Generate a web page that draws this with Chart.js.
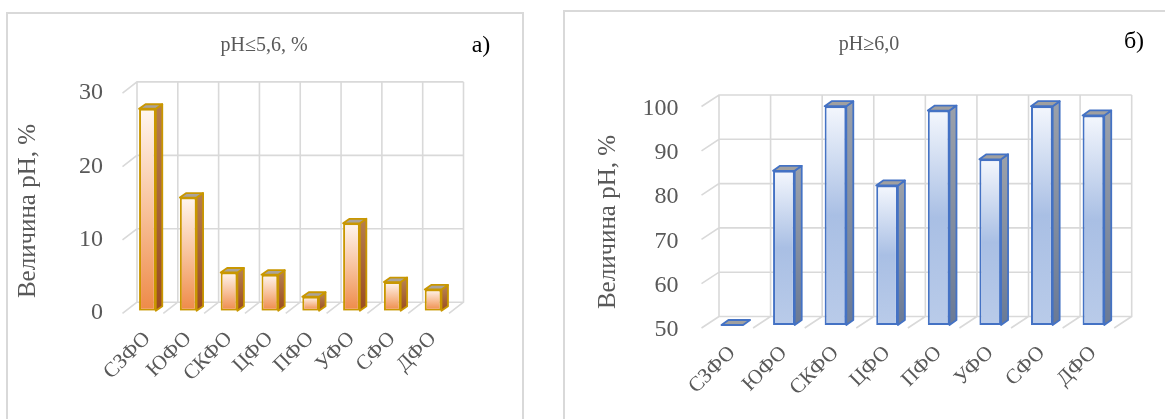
<!DOCTYPE html>
<html>
<head>
<meta charset="utf-8">
<script src="https://cdn.jsdelivr.net/npm/chart.js@4"></script>
<style>
  body { margin: 0; width: 1165px; height: 419px; overflow: hidden; background: #fff; position: relative; }
  .box { position: absolute; border: 2px solid #d9d9d9; border-bottom: none; height: 500px; }
  canvas { position: absolute; top: 0; }
</style>
</head>
<body>
<div class="box" style="left:6px; top:12px; width:514px;"></div>
<div class="box" style="left:563px; top:10px; width:700px;"></div>
<canvas id="chartA" width="545" height="419" style="left:0"></canvas>
<canvas id="chartB" width="620" height="419" style="left:545px"></canvas>
<script>
const regions = ["СЗФО", "ЮФО", "СКФО", "ЦФО", "ПФО", "УФО", "СФО", "ДФО"];
const acidShare = [27.5, 15.4, 5.2, 4.9, 1.9, 11.9, 3.9, 2.9];      // pH <= 5.6
const alkalineShare = [50, 84.8, 99.4, 81.5, 98.4, 87.4, 99.4, 97.3]; // pH >= 6.0
const acidRange = [0, 30, 10];
const alkalineRange = [50, 100, 10];

const axisTitle = "Величина pH, %";
const FONT = "'Liberation Serif', 'Times New Roman', serif";
const GREY = "#595959";

// gradient for the front face of every bar, built from the y scale
function frontFill(stops) {
  return (c) => {
    const chart = c.chart;
    if (!chart.chartArea || c.type !== "data") return stops[2];
    const y = chart.scales.y;
    const top = y.getPixelForValue(c.raw);
    const bot = y.getPixelForValue(y.min);
    if (bot - top < 1) return stops[2];
    const g = chart.ctx.createLinearGradient(0, top, 0, bot);
    g.addColorStop(0, stops[0]);
    g.addColorStop(0.5, stops[1]);
    g.addColorStop(1, stops[2]);
    return g;
  };
}

const pseudo3d = {
  id: "pseudo3d",
  beforeDatasetsDraw(chart, args, o) {
    const { ctx, chartArea: a, scales: { x, y } } = chart;
    const [bx, by] = o.back, [fx, fy] = o.front;
    const w = (a.right - a.left) / x.ticks.length;
    ctx.save();
    ctx.strokeStyle = "#d9d9d9";
    ctx.lineWidth = 1.6;
    ctx.beginPath();
    y.ticks.forEach((t) => {
      const py = y.getPixelForValue(t.value);
      ctx.moveTo(a.left + fx, py + fy);
      ctx.lineTo(a.left + bx, py + by);
      ctx.lineTo(a.right + bx, py + by);
    });
    x.ticks.forEach((t, i) => {
      const px = x.getPixelForTick(i) - w / 2;
      ctx.moveTo(px + fx, a.bottom + fy);
      ctx.lineTo(px + bx, a.bottom + by);
      ctx.lineTo(px + bx, a.top + by);
    });
    ctx.moveTo(a.right + fx, a.bottom + fy);
    ctx.lineTo(a.right + bx, a.bottom + by);
    ctx.lineTo(a.right + bx, a.top + by);
    ctx.stroke();
    ctx.restore();
  },
  afterDatasetsDraw(chart, args, o) {
    const { ctx } = chart;
    const [dx, dy] = o.depth;
    ctx.save();
    ctx.lineWidth = 1.8;
    ctx.lineJoin = "round";
    ctx.strokeStyle = o.border;
    chart.getDatasetMeta(0).data.forEach((bar) => {
      const { x, y, base, width } = bar.getProps(["x", "y", "base", "width"], true);
      const l = x - width / 2, r = x + width / 2;
      if (base - y > 0.5) {
        const g = ctx.createLinearGradient(0, y, 0, base);
        g.addColorStop(0, o.side[0]);
        g.addColorStop(1, o.side[1]);
        ctx.fillStyle = g;
        ctx.beginPath();
        ctx.moveTo(r, y);
        ctx.lineTo(r + dx, y + dy);
        ctx.lineTo(r + dx, base + dy);
        ctx.lineTo(r, base);
        ctx.closePath();
        ctx.fill();
        ctx.stroke();
      }
      ctx.fillStyle = o.top;
      ctx.beginPath();
      ctx.moveTo(l, y);
      ctx.lineTo(l + dx, y + dy);
      ctx.lineTo(r + dx, y + dy);
      ctx.lineTo(r, y);
      ctx.closePath();
      ctx.fill();
      ctx.stroke();
    });
    ctx.restore();
  },
  afterDraw(chart, args, o) {
    const { ctx } = chart;
    ctx.save();
    ctx.textAlign = "center";
    ctx.textBaseline = "middle";
    ctx.fillStyle = GREY;
    ctx.font = "20px " + FONT;
    ctx.fillText(o.title, o.titlePos[0], o.titlePos[1]);
    ctx.fillStyle = "#000";
    ctx.font = "24px " + FONT;
    ctx.fillText(o.letter, o.letterPos[0], o.letterPos[1]);
    ctx.fillStyle = GREY;
    ctx.font = "25px " + FONT;
    ctx.translate(o.axisPos[0], o.axisPos[1]);
    ctx.rotate(-Math.PI / 2);
    ctx.fillText(axisTitle, 0, 0);
    ctx.restore();
  }
};

function makeChart(id, values, range, look) {
  return new Chart(document.getElementById(id), {
    type: "bar",
    data: {
      labels: regions,
      datasets: [{
        data: values,
        base: range[0],
        backgroundColor: frontFill(look.front),
        borderColor: look.border,
        borderWidth: 2,
        borderSkipped: false,
        barPercentage: look.barPct,
        categoryPercentage: 1
      }]
    },
    options: {
      responsive: false,
      animation: false,
      events: [],
      layout: { padding: look.padding },
      plugins: {
        legend: { display: false },
        tooltip: { enabled: false },
        pseudo3d: look.p3d
      },
      scales: {
        x: {
          grid: { display: false },
          border: { display: false },
          ticks: { color: GREY, font: { family: FONT, size: 21 }, minRotation: 45, maxRotation: 45, padding: look.xPad },
          afterFit: (s) => { s.height = look.xHeight; }
        },
        y: {
          min: range[0], max: range[1],
          grid: { display: false },
          border: { display: false },
          ticks: { stepSize: range[2], color: GREY, font: { family: FONT, size: 24 }, padding: look.yPad, labelOffset: look.labelOffset },
          afterFit: (s) => { s.width = look.yWidth; }
        }
      }
    },
    plugins: [pseudo3d]
  });
}

makeChart("chartA", acidShare, acidRange, {
  front: ["#fff6f0", "#f8c29c", "#ee8a48"],
  border: "#c99700",
  barPct: 0.41,
  padding: { top: 90.4, right: 91.5, bottom: 0, left: 0 },
  xHeight: 108.3, yWidth: 127, yPad: 16, xPad: 8, labelOffset: 2.5,
  p3d: {
    back: [10, -8.5], front: [-4.5, 2.7], depth: [6.5, -4.5],
    border: "#c99700", side: ["#b47c4c", "#9a4c20"], top: "#aaa39b",
    title: "pH≤5,6, %", titlePos: [264, 46],
    letter: "а)", letterPos: [481, 46],
    axisPos: [28, 211]
  }
});

makeChart("chartB", alkalineShare, alkalineRange, {
  front: ["#f4f7fd", "#a9bfe4", "#b9cbe9"],
  border: "#4472c4",
  barPct: 0.42,
  padding: { top: 103.5, right: 45.8, bottom: 0, left: 0 },
  xHeight: 94, yWidth: 161.5, yPad: 20, xPad: 8, labelOffset: 5,
  p3d: {
    back: [12.5, -8.5], front: [-5, 3], depth: [7, -5],
    border: "#4472c4", side: ["#9aa0aa", "#6a7a96"], top: "#a0a0a0",
    title: "pH≥6,0", titlePos: [324, 45],
    letter: "б)", letterPos: [589, 42],
    axisPos: [63, 222]
  }
});
</script>
</body>
</html>
